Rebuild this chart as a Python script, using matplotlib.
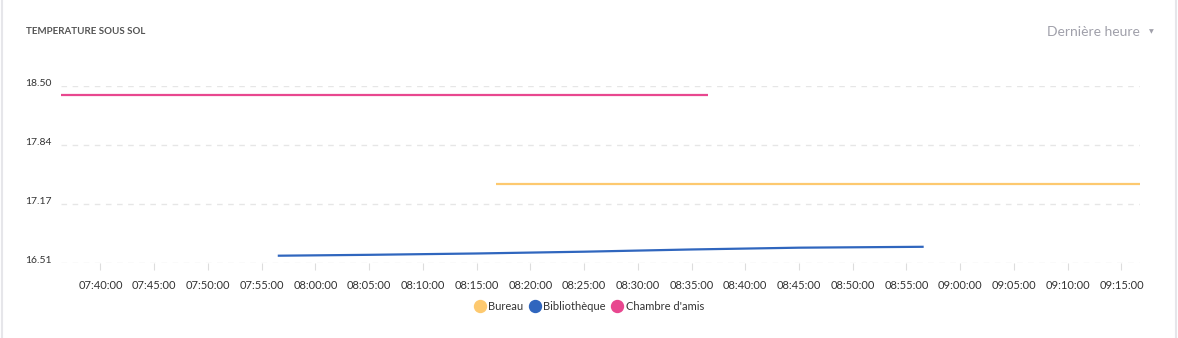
import matplotlib
matplotlib.use("Agg")
import matplotlib.pyplot as plt
import matplotlib.dates as mdates
import pandas as pd
from matplotlib.lines import Line2D

plt.rcParams['font.family'] = ['Lato', 'DejaVu Sans']

# data
bureau_t = ["08:16:50", "09:16:44"]
bureau_v = [17.40, 17.40]

biblio_t = ["07:56:30", "08:05:00", "08:15:00", "08:25:00", "08:35:00", "08:45:00", "08:56:36"]
biblio_v = [16.595, 16.605, 16.62, 16.64, 16.665, 16.685, 16.695]

chambre_t = ["07:36:20", "08:36:32"]
chambre_v = [18.40, 18.40]

y_ticks = [16.51, 17.17, 17.84, 18.50]
x_start, x_end = "07:36:20", "09:16:44"
x_ticks = pd.date_range("2024-01-01 07:40:00", "2024-01-01 09:15:00", freq="5min")

names = ["Bureau", "Bibliothèque", "Chambre d'amis"]
colors = ["#fdc96f", "#3066be", "#e8478f"]


def to_dt(ts):
    return pd.to_datetime(["2024-01-01 " + t for t in ts])


fig = plt.figure(figsize=(11.78, 3.38), dpi=100)
ax = fig.add_axes([0.0518, 0.221, 0.9160, 0.5255])

for tt, vv, c in [(bureau_t, bureau_v, colors[0]),
                  (biblio_t, biblio_v, colors[1]),
                  (chambre_t, chambre_v, colors[2])]:
    ax.plot(to_dt(tt), vv, color=c, linewidth=1.6, solid_capstyle='butt')

ax.set_xlim(to_dt([x_start])[0], to_dt([x_end])[0])
ax.set_ylim(y_ticks[0], y_ticks[-1])
ax.set_yticks(y_ticks)
ax.set_yticklabels([f"{v:.2f}" for v in y_ticks])
ax.set_xticks(x_ticks)
ax.xaxis.set_major_formatter(mdates.DateFormatter("%H:%M:%S"))

for s in ax.spines.values():
    s.set_visible(False)
ax.grid(True, axis='y', color='#e6e6e6', linestyle=(0, (4, 4)), linewidth=1)
ax.tick_params(axis='y', length=0, labelsize=7.5, labelcolor='#333333', pad=6.5)
ax.tick_params(axis='x', length=5, color='#dddddd', labelsize=8, labelcolor='#333333', pad=7)
for lbl in ax.get_yticklabels():
    lbl.set_verticalalignment('baseline')

handles = [Line2D([], [], marker='o', linestyle='none', markersize=8.6,
                  markerfacecolor=c, markeredgecolor=c) for c in colors]
fig.legend(handles, names, loc='center', bbox_to_anchor=(0.5, 0.094), ncol=3,
           frameon=False, fontsize=8, handletextpad=0.25, columnspacing=0.55,
           handlelength=1.0, labelcolor='#333333')

fig.text(0.022, 0.908, "TEMPERATURE SOUS SOL", fontsize=7, fontweight='bold',
         color='#555555', va='center')
fig.text(0.9675, 0.905, "Dernière heure", fontsize=10, color='#a0a0aa',
         ha='right', va='center')
fig.text(0.979, 0.905, "\u25bc", fontsize=4.5, color='#a0a0aa',
         ha='right', va='center', family=['DejaVu Sans'])

# card borders
fig.add_artist(Line2D([0.0015, 0.0015], [0, 1], color='#e6e6ea', linewidth=1.5))
fig.add_artist(Line2D([0.9985, 0.9985], [0, 1], color='#e6e6ea', linewidth=1.5))

fig.savefig("out.png", dpi=100)
